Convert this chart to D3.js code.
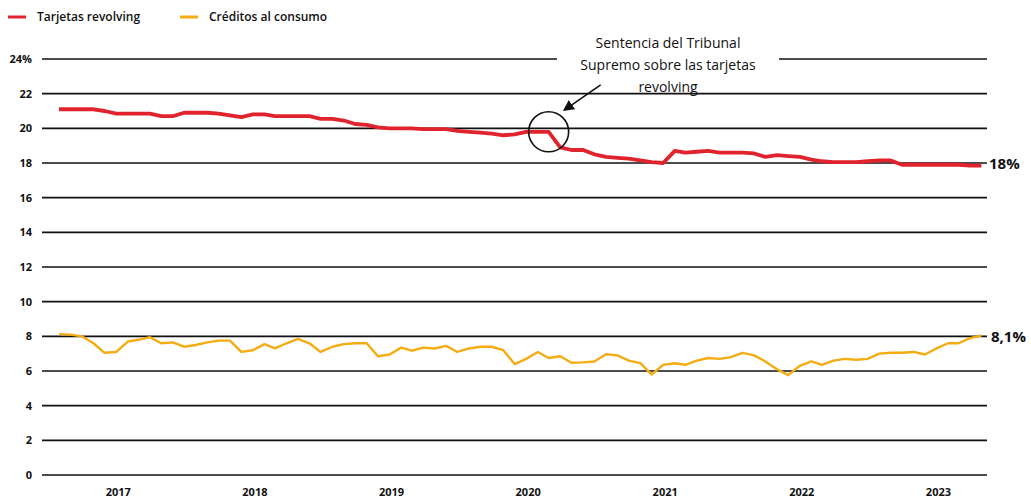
<!DOCTYPE html>
<html>
<head>
<meta charset="utf-8">
<script src="https://cdn.jsdelivr.net/npm/d3@7"></script>
<style>
body { margin: 0; background: #fff; }
text { font-family: "Open Sans", sans-serif; fill: #111; }
.grid { stroke: #111; stroke-width: 1.7; }
.tick-label { font-size: 11px; font-weight: 700; }
</style>
</head>
<body>
<div class="container"></div>
<script>
const WIDTH = 1031;
const HEIGHT = 504;

// monthly series, Aug 2016 .. May 2023
const START_MONTH = new Date(2016, 7, 1);
const revolving = [
  21.1, 21.1, 21.1, 21.1, 21.0, 20.85, 20.85, 20.85, 20.85, 20.7,
  20.7, 20.9, 20.9, 20.9, 20.85, 20.75, 20.65, 20.8, 20.8, 20.7,
  20.7, 20.7, 20.7, 20.55, 20.55, 20.45, 20.25, 20.2, 20.05, 20.0,
  20.0, 20.0, 19.95, 19.95, 19.95, 19.85, 19.8, 19.75, 19.7, 19.6,
  19.65, 19.8, 19.8, 19.8, 18.9, 18.75, 18.75, 18.5, 18.35, 18.3,
  18.25, 18.15, 18.05, 18.0, 18.7, 18.6, 18.65, 18.7, 18.6, 18.6,
  18.6, 18.55, 18.35, 18.45, 18.4, 18.35, 18.2, 18.1, 18.05, 18.05,
  18.05, 18.1, 18.15, 18.15, 17.9, 17.9, 17.9, 17.9, 17.9, 17.9,
  17.85, 17.85
];
const consumo = [
  8.13, 8.1, 8.0, 7.6, 7.05, 7.1, 7.7, 7.8, 7.95, 7.6,
  7.65, 7.4, 7.5, 7.65, 7.75, 7.75, 7.1, 7.2, 7.55, 7.3,
  7.6, 7.85, 7.6, 7.1, 7.4, 7.55, 7.6, 7.6, 6.85, 6.95,
  7.35, 7.17, 7.35, 7.3, 7.45, 7.1, 7.3, 7.4, 7.4, 7.2,
  6.4, 6.7, 7.1, 6.75, 6.85, 6.48, 6.5, 6.55, 6.97, 6.9,
  6.6, 6.45, 5.8, 6.35, 6.45, 6.36, 6.6, 6.75, 6.7, 6.8,
  7.05, 6.9, 6.55, 6.1, 5.76, 6.3, 6.55, 6.35, 6.6, 6.7,
  6.65, 6.7, 7.0, 7.05, 7.05, 7.1, 6.95, 7.3, 7.6, 7.6,
  7.9, 8.05
];
const yTicks = [0, 2, 4, 6, 8, 10, 12, 14, 16, 18, 20, 22, 24];
const yearTicks = [2017, 2018, 2019, 2020, 2021, 2022, 2023];
const legendItems = ["Tarjetas revolving", "Créditos al consumo"];
const endLabels = ["18%", "8,1%"];
const noteLines = ["Sentencia del Tribunal", "Supremo sobre las tarjetas", "revolving"];
const noteMonth = 43; // Mar 2020

const RED = "#e1232d";
const ORANGE = "#f4ac12";

var translate = function(x, y){
  return "translate(" + x + "," + y + ")";
};

var months = revolving.map(function(d, i){ return d3.timeMonth.offset(START_MONTH, i); });

var svg = d3.select('.container').append('svg')
  .attr('width', WIDTH)
  .attr('height', HEIGHT);

var xScale = d3.scaleTime()
  .domain([START_MONTH, d3.timeMonth.offset(START_MONTH, revolving.length)])
  .range([59, 59 + 82 * 11.39]);

var yScale = d3.scaleLinear()
  .domain([0, 24])
  .range([475, 59]);

// grid
svg.append('g').selectAll('line')
  .data(yTicks)
  .join('line')
  .attr('class', 'grid')
  .attr('x1', 42)
  .attr('x2', 987)
  .attr('y1', d => yScale(d))
  .attr('y2', d => yScale(d));

// y labels
svg.append('g').selectAll('text')
  .data(yTicks)
  .join('text')
  .attr('class', 'tick-label')
  .attr('x', 32)
  .attr('y', d => yScale(d) + 4)
  .attr('text-anchor', 'end')
  .text(d => d === 24 ? d + '%' : d);

// x labels
svg.append('g').selectAll('text')
  .data(yearTicks)
  .join('text')
  .attr('class', 'tick-label')
  .attr('x', d => xScale(new Date(d, 0, 1)) + 2)
  .attr('y', 496)
  .attr('text-anchor', 'middle')
  .text(d => d);

var line = d3.line()
  .x(function(d, i){ return xScale(months[i]); })
  .y(function(d){ return yScale(d); });

svg.append('path')
  .attr('d', line(consumo))
  .attr('fill', 'none')
  .attr('stroke', ORANGE)
  .attr('stroke-width', 2.4)
  .attr('stroke-linejoin', 'round');

svg.append('path')
  .attr('d', line(revolving))
  .attr('fill', 'none')
  .attr('stroke', RED)
  .attr('stroke-width', 3.8)
  .attr('stroke-linejoin', 'round');

// end labels
svg.append('text')
  .attr('x', 989)
  .attr('y', yScale(18) + 6)
  .style('font-size', '15px')
  .style('font-weight', 700)
  .text(endLabels[0]);

svg.append('text')
  .attr('x', 991)
  .attr('y', yScale(8) + 6)
  .style('font-size', '15px')
  .style('font-weight', 700)
  .text(endLabels[1]);

// legend
var legend = svg.append('g').attr('transform', translate(8, 17));
var lg = legend.selectAll('g')
  .data(legendItems)
  .join('g')
  .attr('transform', (d, i) => translate(i * 172, 0));
lg.append('line')
  .attr('x1', 0).attr('x2', 18)
  .attr('stroke', (d, i) => i === 0 ? RED : ORANGE)
  .attr('stroke-width', 3);
lg.append('text')
  .attr('x', 29)
  .attr('y', 4)
  .style('font-size', '12px')
  .style('font-weight', 600)
  .text(d => d);

// annotation
var cx = xScale(months[noteMonth]);
var cy = yScale(revolving[noteMonth]);

svg.append('rect')
  .attr('x', 557).attr('y', 30)
  .attr('width', 222).attr('height', 42)
  .attr('fill', '#fff');

svg.append('g').selectAll('text')
  .data(noteLines)
  .join('text')
  .attr('x', 668)
  .attr('y', (d, i) => 48 + i * 22)
  .attr('text-anchor', 'middle')
  .style('font-size', '14px')
  .style('font-weight', 500)
  .text(d => d);

svg.append('circle')
  .attr('cx', cx)
  .attr('cy', cy)
  .attr('r', 20)
  .attr('fill', 'none')
  .attr('stroke', '#111')
  .attr('stroke-width', 1.6);

svg.append('defs').append('marker')
  .attr('id', 'arrow')
  .attr('viewBox', '0 0 10 10')
  .attr('refX', 8).attr('refY', 5)
  .attr('markerWidth', 7).attr('markerHeight', 7)
  .attr('orient', 'auto')
  .append('path')
  .attr('d', 'M0,0 L10,5 L0,10 Z')
  .attr('fill', '#111');

svg.append('line')
  .attr('x1', cx + 52).attr('y1', cy - 47)
  .attr('x2', cx + 16).attr('y2', cy - 22)
  .attr('stroke', '#111')
  .attr('stroke-width', 1.6)
  .attr('marker-end', 'url(#arrow)');
</script>
</body>
</html>
